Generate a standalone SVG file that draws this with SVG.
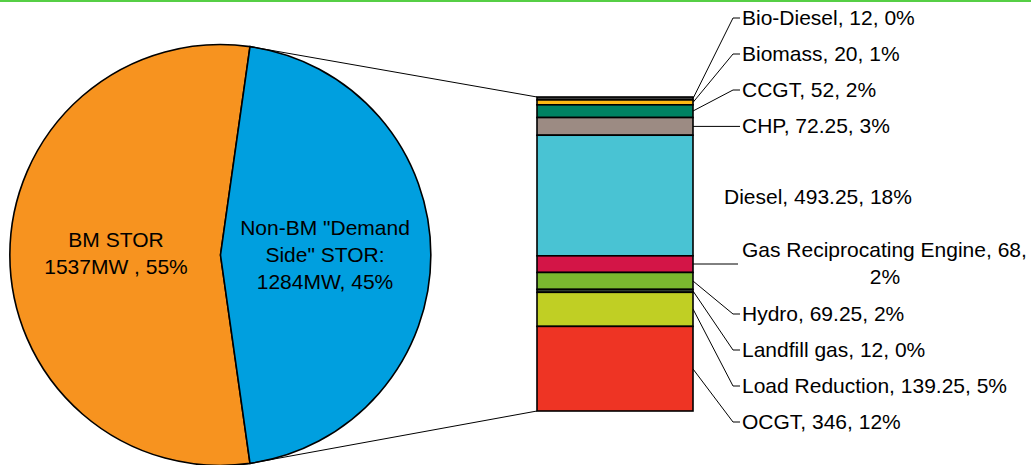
<svg xmlns="http://www.w3.org/2000/svg" width="1031" height="465" viewBox="0 0 1031 465">
<style>
text{font-family:"Liberation Sans",Arial,sans-serif;font-size:21px;fill:#000}
.seg{stroke:#000;stroke-width:1.6}
.lead{fill:none;stroke:#000;stroke-width:1}
.m{text-anchor:middle}
</style>
<rect x="0" y="0" width="1031" height="465" fill="#fff"/>
<rect x="0" y="0" width="1031" height="2" fill="#56CF45"/>
<g id="pie">
<g id="bm-stor">
<path d="M220.5,255 L250,463.4 A210.5,210.5 0 1 1 250,46.6 Z" fill="#F7931F" class="seg"/>
<text class="m" x="116" y="247">BM STOR</text>
<text class="m" x="116" y="274">1537MW , 55%</text>
</g>
<g id="non-bm-stor">
<path d="M220.5,255 L250,46.6 A210.5,210.5 0 0 1 250,463.4 Z" fill="#009FDF" class="seg"/>
<text class="m" x="325" y="235">Non-BM "Demand</text>
<text class="m" x="325" y="262">Side" STOR:</text>
<text class="m" x="325" y="289">1284MW, 45%</text>
</g>
</g>
<g id="connectors">
<line class="lead" x1="250" y1="46.6" x2="537" y2="97"/>
<line class="lead" x1="250" y1="463.4" x2="537" y2="411"/>
<polyline class="lead" points="693,98.5 733,18 740,18"/>
<polyline class="lead" points="693,102.4 733,54 740,54"/>
<polyline class="lead" points="693,111 733,90 740,90"/>
<polyline class="lead" points="693,126.4 740,126.4"/>
<polyline class="lead" points="693,264 738,264"/>
<polyline class="lead" points="693,281 733,314 740,314"/>
<polyline class="lead" points="693,291 733,350 740,350"/>
<polyline class="lead" points="693,309 733,386 740,386"/>
<polyline class="lead" points="693,369 733,422 740,422"/>
</g>
<g id="bar">
<g id="bio-diesel"><rect class="seg" x="537" y="97" width="156" height="2.93" fill="#3B3B3B"/><text x="742" y="25">Bio-Diesel, 12, 0%</text></g>
<g id="biomass"><rect class="seg" x="537" y="99.93" width="156" height="4.89" fill="#FDB913"/><text x="742" y="61">Biomass, 20, 1%</text></g>
<g id="ccgt"><rect class="seg" x="537" y="104.82" width="156" height="12.72" fill="#008262"/><text x="742" y="97">CCGT, 52, 2%</text></g>
<g id="chp"><rect class="seg" x="537" y="117.54" width="156" height="17.67" fill="#9C8B83"/><text x="742" y="133">CHP, 72.25, 3%</text></g>
<g id="diesel"><rect class="seg" x="537" y="135.21" width="156" height="120.62" fill="#49C3D3"/><text x="724" y="204">Diesel, 493.25, 18%</text></g>
<g id="gas-recip"><rect class="seg" x="537" y="255.83" width="156" height="16.63" fill="#D31547"/><text x="742" y="257">Gas Reciprocating Engine, 68,</text><text class="m" x="885" y="284">2%</text></g>
<g id="hydro"><rect class="seg" x="537" y="272.46" width="156" height="16.94" fill="#7AB82F"/><text x="742" y="321">Hydro, 69.25, 2%</text></g>
<g id="landfill"><rect class="seg" x="537" y="289.4" width="156" height="2.93" fill="#3B4A3A"/><text x="742" y="357">Landfill gas, 12, 0%</text></g>
<g id="load-reduction"><rect class="seg" x="537" y="292.33" width="156" height="34.05" fill="#C0CF24"/><text x="742" y="393">Load Reduction, 139.25, 5%</text></g>
<g id="ocgt"><rect class="seg" x="537" y="326.38" width="156" height="84.62" fill="#EE3424"/><text x="742" y="429">OCGT, 346, 12%</text></g>
</g>
</svg>
